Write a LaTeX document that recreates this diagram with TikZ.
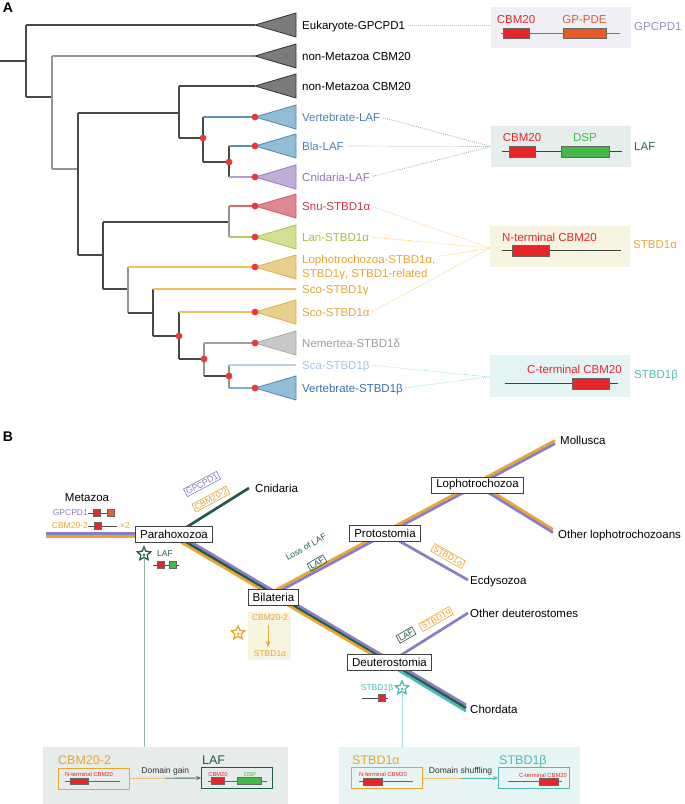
\documentclass[tikz,border=0pt]{standalone}
\usepackage{fontspec}
\setmainfont{Liberation Sans}
\usetikzlibrary{shapes.geometric,arrows.meta,calc}
\newcommand\fA{\fontsize{11.5}{13}\selectfont}
\newcommand\fS{\fontsize{8.5}{10}\selectfont}
\newcommand\fT{\fontsize{5.8}{7}\selectfont}
\newcommand\fL{\fontsize{12.5}{14}\selectfont}
\newcommand\fP{\fontsize{14}{16}\selectfont\bfseries}
\definecolor{dotred}{HTML}{E8393C}
\definecolor{dred}{HTML}{E8262A}
\definecolor{gpde}{HTML}{E95B25}
\definecolor{dsp}{HTML}{45B847}
\definecolor{pur}{HTML}{8B7CC6}
\definecolor{org}{HTML}{E8A532}
\definecolor{dgr}{HTML}{215A47}
\definecolor{tealc}{HTML}{4DB9B5}
\definecolor{blueF}{HTML}{93BDD6}\definecolor{blueE}{HTML}{4D87B9}
\definecolor{purF}{HTML}{C2ACD8}\definecolor{purE}{HTML}{9777C2}
\definecolor{redF}{HTML}{DC8A90}\definecolor{redE}{HTML}{D65560}
\definecolor{lanF}{HTML}{D6E094}\definecolor{lanE}{HTML}{A9C24E}
\definecolor{orgF}{HTML}{E9CF8E}\definecolor{orgE}{HTML}{E6AA40}
\definecolor{gryF}{HTML}{C9C9C9}\definecolor{gryE}{HTML}{A8A8A8}
\definecolor{dkF}{HTML}{7B7B7B}\definecolor{dkE}{HTML}{333333}
\definecolor{tblue}{HTML}{4A80B8}\definecolor{tpur}{HTML}{9370C0}
\definecolor{tred}{HTML}{D6323C}\definecolor{tlan}{HTML}{A3BD3F}
\definecolor{torg}{HTML}{E5A53A}\definecolor{tgry}{HTML}{9C9C9C}
\definecolor{tsca}{HTML}{A9C3E8}\definecolor{tvb}{HTML}{3A70AF}
\definecolor{lblue}{HTML}{5B8FC4}\definecolor{lpur}{HTML}{B59AD6}
\definecolor{lred}{HTML}{E06670}\definecolor{llan}{HTML}{B5CA5A}
\definecolor{lorg}{HTML}{F0C060}\definecolor{lgry}{HTML}{A0A0A0}
\definecolor{lsca}{HTML}{B8CFEE}\definecolor{lvb}{HTML}{7FAEDB}
\definecolor{gpbg}{HTML}{F0EFF5}\definecolor{lafbg}{HTML}{E5EEEC}
\definecolor{sabg}{HTML}{F8F4E2}\definecolor{sbbg}{HTML}{E4F4F4}
\definecolor{lbg}{HTML}{E5ECEA}\definecolor{rbg}{HTML}{E6F4F3}
\definecolor{dotgp}{HTML}{C3C3DD}\definecolor{dotlaf}{HTML}{86A99E}
\definecolor{dotsa}{HTML}{F2C97C}\definecolor{dotsb}{HTML}{8FD4D0}
\definecolor{tlaf}{HTML}{2E6050}\definecolor{tgp}{HTML}{9A8ACC}
\definecolor{tsb}{HTML}{55BDB8}\definecolor{sage}{HTML}{8FB3A8}
\definecolor{lteal}{HTML}{A8DEDC}
\colorlet{dk}{black!72}
\colorlet{lt}{black!42}
\newcommand\tri[3]{\draw[line width=0.8pt, draw=#2, fill=#3] (255,#1) -- (296,{#1-12}) -- (296,{#1+12}) -- cycle;}
\newcommand\rdot[2]{\fill[dotred] (#1,#2) circle (3.4pt);}
\begin{document}
\begin{tikzpicture}[x=1pt,y=-1pt,
  tr/.style={line width=1.3pt},
  lab/.style={font=\fA, anchor=base west, inner sep=0, yshift=-4.1pt},
  labS/.style={font=\fS, inner sep=0},
  dotline/.style={line width=0.7pt, dash pattern=on 0.8pt off 1.2pt, shorten <=3pt},
  clade/.style={draw=black!75, fill=white, font=\fA, line width=0.8pt, inner xsep=4.5pt, inner ysep=0pt, minimum height=16pt},
  lost/.style={font=\fS, inner sep=1.3pt, line width=0.6pt, draw},
  stripe/.style={line width=2.7pt},
  starn/.style={star, star points=5, star point ratio=2.1, line width=1.3pt, minimum size=14pt, inner sep=0},
  dom/.style={draw=black!60, line width=0.4pt},
  bx/.style={inner sep=0, minimum width=140pt, minimum height=41pt},
  obox/.style={draw, line width=0.8pt, minimum width=71pt, minimum height=21pt, inner sep=0}
]
\useasboundingbox (0,0) rectangle (685,804);
% ---------------- Panel A ----------------
\node[font=\fP, anchor=center] (pA) at (8,8) {A};
\draw[tr, dk] (0,61) -- (26,61);
\draw[tr, dk] (26,25) -- (26,97);
\draw[tr, dk] (26,25) -- (255,25);
\draw[tr, dk] (26,97) -- (52,97);
\draw[tr, lt] (52,56) -- (52,169);
\draw[tr, lt] (52,56) -- (255,56);
\draw[tr, lt] (52,169) -- (78,169);
\draw[tr, dk] (78,113) -- (78,255);
\draw[tr, dk] (78,113) -- (179,113);
\draw[tr, dk] (179,86) -- (179,138);
\draw[tr, dk] (179,86) -- (255,86);
\draw[tr, dk] (179,138) -- (203,138);
\draw[tr, dk] (203,117) -- (203,162);
\draw[tr, lblue] (203,117) -- (255,117);
\draw[tr, dk] (203,162) -- (229,162);
\draw[tr, dk] (229,146) -- (229,177);
\draw[tr, lblue] (229,146) -- (255,146);
\draw[tr, lpur] (229,177) -- (255,177);
\draw[tr, dk] (78,255) -- (103,255);
\draw[tr, dk] (103,222) -- (103,289);
\draw[tr, dk] (103,222) -- (229,222);
\draw[tr, lt] (229,206) -- (229,237);
\draw[tr, lred] (229,206) -- (255,206);
\draw[tr, llan] (229,237) -- (255,237);
\draw[tr, dk] (103,289) -- (128,289);
\draw[tr, lt] (128,267) -- (128,313);
\draw[tr, lorg] (128,267) -- (255,267);
\draw[tr, dk] (128,313) -- (153,313);
\draw[tr, dk] (153,289) -- (153,336);
\draw[tr, lorg] (153,289) -- (296,289);
\draw[tr, dk] (153,336) -- (179,336);
\draw[tr, dk] (179,312) -- (179,359);
\draw[tr, lorg] (179,312) -- (255,312);
\draw[tr, dk] (179,359) -- (204,359);
\draw[tr, lt] (204,343) -- (204,376);
\draw[tr, lgry] (204,343) -- (255,343);
\draw[tr, dk] (204,376) -- (229,376);
\draw[tr, lt] (229,365) -- (229,388);
\draw[tr, lsca] (229,365) -- (296,365);
\draw[tr, lvb] (229,388) -- (255,388);
% triangles
\tri{25}{dkE}{dkF}
\tri{56}{dkE}{dkF}
\tri{86}{dkE}{dkF}
\tri{117}{blueE}{blueF}
\tri{146}{blueE}{blueF}
\tri{177}{purE}{purF}
\tri{206}{redE}{redF}
\tri{237}{lanE}{lanF}
\tri{267}{orgE}{orgF}
\tri{312}{orgE}{orgF}
\tri{343}{gryE}{gryF}
\tri{388}{blueE}{blueF}
% dots
\rdot{255}{117}\rdot{255}{146}\rdot{255}{177}\rdot{255}{206}\rdot{255}{237}
\rdot{255}{267}\rdot{255}{312}\rdot{255}{343}\rdot{255}{388}
\rdot{203}{138}\rdot{229}{162}\rdot{179}{336}\rdot{204}{359}\rdot{229}{376}
% labels
\node[lab] (euk) at (302,25) {Eukaryote-GPCPD1};
\node[lab] (nm1) at (302,56) {non-Metazoa CBM20};
\node[lab] (nm2) at (302,86) {non-Metazoa CBM20};
\node[lab, text=tblue] (vlaf) at (302,117) {Vertebrate-LAF};
\node[lab, text=tblue] (blaf) at (302,146) {Bla-LAF};
\node[lab, text=tpur] (claf) at (302,177) {Cnidaria-LAF};
\node[lab, text=tred] (snu) at (302,206) {Snu-STBD1α};
\node[lab, text=tlan] (lan) at (302,237) {Lan-STBD1α};
\node[lab, text=torg] (lo1) at (302,259) {Lophotrochozoa-STBD1α,};
\node[lab, text=torg] (lo2) at (302,273) {STBD1γ, STBD1-related};
\node[lab, text=torg] (scog) at (302,289) {Sco-STBD1γ};
\node[lab, text=torg] (scoa) at (302,312) {Sco-STBD1α};
\node[lab, text=tgry] (nem) at (302,343) {Nemertea-STBD1δ};
\node[lab, text=tsca] (sca) at (302,365) {Sca-STBD1β};
\node[lab, text=tvb] (vsb) at (302,388) {Vertebrate-STBD1β};
% domain boxes
\node[bx, fill=gpbg] (gpbox) at (561,27.5) {};
\node[bx, fill=lafbg] (lafbox) at (561,146.5) {};
\node[bx, fill=sabg] (sabox) at (560,246) {};
\node[bx, fill=sbbg, minimum height=42pt] (sbbox) at (560,376) {};
% dotted connectors
\draw[dotline, dotgp] (euk.east |- 0,25) -- (gpbox.west |- 0,25);
\draw[dotline, dotlaf] (vlaf.east |- 0,117) -- (lafbox.west);
\draw[dotline, dotlaf] (blaf.east |- 0,146) -- (lafbox.west);
\draw[dotline, dotlaf] (claf.east |- 0,177) -- (lafbox.west);
\draw[dotline, dotsa] (snu.east |- 0,206) -- ($(sabox.west)+(0,2)$);
\draw[dotline, dotsa] (lan.east |- 0,237) -- ($(sabox.west)+(0,2)$);
\draw[dotline, dotsa] (lo1.east |- 0,257) -- ($(sabox.west)+(0,2)$);
\draw[dotline, dotsa] (scoa.east |- 0,313) -- ($(sabox.west)+(0,2)$);
\draw[dotline, dotsb] (sca.east |- 0,365) -- ($(sbbox.west)+(0,1)$);
\draw[dotline, dotsb] (vsb.east |- 0,388) -- ($(sbbox.west)+(0,1)$);
% GPCPD1 domains
\draw[black!55, line width=0.8pt] (501,33) -- (620,33);
\draw[dom, fill=dred] (503,28) rectangle (529,38);
\draw[dom, fill=gpde] (563,28) rectangle (606,38);
\node[labS, font=\fA, text=dred] (gpc) at (516,20) {CBM20};
\node[labS, font=\fA, text=gpde] (gpp) at (584.5,20) {GP-PDE};
\node[lab, text=tgp] (gpn) at (634,26) {GPCPD1};
% LAF domains
\draw[black!75, line width=0.8pt] (502,151) -- (622,151);
\draw[dom, fill=dred] (509,146) rectangle (535,157);
\draw[dom, fill=dsp] (561,146) rectangle (609,157);
\node[labS, font=\fA, text=dred] (lc) at (522,138) {CBM20};
\node[labS, font=\fA, text=dsp] (ld) at (585,138) {DSP};
\node[lab, text=tlaf] (lafn) at (634,146) {LAF};
% STBD1a domains
\draw[black!75, line width=0.8pt] (502,250) -- (621,250);
\draw[dom, fill=dred] (512,245) rectangle (549,256);
\node[lab, text=dred] (nt) at (502,237) {N-terminal CBM20};
\node[lab, text=torg] (san) at (633,244) {STBD1α};
% STBD1b domains
\draw[black!75, line width=0.8pt] (505,383) -- (618,383);
\draw[dom, fill=dred] (572,378) rectangle (609,389);
\node[lab, anchor=base east, text=dred] (ct) at (622,369) {C-terminal CBM20};
\node[lab, text=tsb] (sbn) at (634,374) {STBD1β};
% ---------------- Panel B ----------------
\node[font=\fP, anchor=center] (pB) at (8,437) {B};
\coordinate (P) at (174,535);
\coordinate (H0) at (46,535);
\coordinate (Cn) at (249,488);
\coordinate (Cc) at (466,708);
\coordinate (Bi) at (273,593);
\coordinate (Dd) at (390,662);
\coordinate (Mo) at (555,442);
\coordinate (Lo) at (477,484);
\coordinate (Pr) at (385,533);
\coordinate (OL) at (553,531);
\coordinate (Ec) at (468,580);
\coordinate (OD) at (468,613);
% thick lines
\draw[stripe, pur, transform canvas={yshift=1.35pt}] (H0) -- (P);
\draw[stripe, org, transform canvas={yshift=-1.35pt}] (H0) -- (P);
\draw[stripe, dgr] (P) -- (Cn);
\draw[stripe, org, transform canvas={yshift=1.55pt}] (Bi) -- (Mo);
\draw[stripe, pur, transform canvas={yshift=-1.55pt}] (Bi) -- (Mo);
\draw[stripe, org, transform canvas={yshift=1.6pt}] (Lo) -- (OL);
\draw[stripe, pur, transform canvas={yshift=-1.6pt}] (Lo) -- (OL);
\draw[stripe, pur] (Pr) -- (Ec);
\draw[stripe, pur] (Dd) -- (OD);
\draw[stripe, pur, transform canvas={yshift=3.1pt}] (P) -- (Cc);
\draw[stripe, dgr] (P) -- (Cc);
\draw[stripe, org, transform canvas={yshift=-3.1pt}] (P) -- (Dd);
\draw[stripe, tealc, transform canvas={yshift=-3.1pt}] (Dd) -- (Cc);
% clade boxes
\node[clade] (para) at (174,534) {Parahoxozoa};
\node[clade] (bila) at (273.5,597) {Bilateria};
\node[clade] (prot) at (385,533.5) {Protostomia};
\node[clade] (loph) at (477.5,485) {Lophotrochozoa};
\node[clade] (deut) at (389.5,662) {Deuterostomia};
% terminal labels
\node[lab] (tcn) at (255,488) {Cnidaria};
\node[lab] (tmo) at (560,440) {Mollusca};
\node[lab] (tol) at (558,534) {Other lophotrochozoans};
\node[lab] (tec) at (470,580) {Ecdysozoa};
\node[lab] (tod) at (470,613) {Other deuterostomes};
\node[lab] (tch) at (470,709) {Chordata};
\node[font=\fA, inner sep=0] (meta) at (87,498) {Metazoa};
% lost boxes
\node[lost, draw=pur, text=pur, rotate=28] (lg1) at (202,484) {GPCPD1};
\node[lost, draw=org, text=org, rotate=28] (lg2) at (211,499) {CBM20-2};
\node[labS, text=dgr, rotate=30] (loss) at (306,547) {Loss of LAF};
\node[lost, draw=dgr, text=dgr, rotate=30] (ll1) at (317,563) {LAF};
\node[lost, draw=org, text=org, rotate=-30] (ls1) at (448,556) {STBD1α};
\node[lost, draw=dgr, text=dgr, rotate=30] (ll2) at (406,635) {LAF};
\node[lost, draw=org, text=org, rotate=30] (ls2) at (436,619) {STBD1α};
% Metazoa minis
\node[labS, anchor=east, text=pur] (mg) at (88,513) {GPCPD1};
\draw[black!70, line width=0.6pt] (88,513) -- (115,513);
\draw[dom, fill=dred] (93,509.5) rectangle (100,516.5);
\draw[dom, fill=gpde] (107,509.5) rectangle (114,516.5);
\node[labS, anchor=east, text=org] (mc) at (88,526) {CBM20-2};
\draw[black!70, line width=0.6pt] (88,526) -- (117,526);
\draw[dom, fill=dred] (94,522.5) rectangle (101,529.5);
\node[labS, anchor=west, text=org] (x2) at (120,526) {×2};
% LAF mini and star
\node[starn, draw=dgr] (s1) at (144,554) {};
\fill[dgr] (144,555) circle (1.3pt);
\node[labS, anchor=west, text=dgr] (mlaf) at (157,554) {LAF};
\draw[black!70, line width=0.6pt] (153,565) -- (179,565);
\draw[dom, fill=dred] (157,561.5) rectangle (164,568.5);
\draw[dom, fill=dsp] (169,561.5) rectangle (176,568.5);
% Bilateria beige box
\node[fill=sabg, minimum width=43pt, minimum height=48pt, inner sep=0] (bbx) at (269.5,636) {};
\node[labS, text=org] (bc) at (270,618) {CBM20-2};
\node[labS, text=org] (bs) at (270,654) {STBD1α};
\draw[org, line width=0.8pt, -{Stealth[length=6pt,width=4.5pt]}] (268,625) -- (268,647);
\node[starn, draw=org] (s2) at (238,633) {};
\fill[org] (238,634) circle (1.3pt);
% Deuterostomia minis
\node[starn, draw=tealc] (s3) at (402,688) {};
\fill[tealc] (402,689) circle (1.3pt);
\node[labS, text=tealc] (msb) at (377,688) {STBD1β};
\draw[black!70, line width=0.6pt] (362,698) -- (388,698);
\draw[dom, fill=dred] (378,694.5) rectangle (385,701.5);
% bottom boxes
\node[fill=lbg, minimum width=245pt, minimum height=57pt, inner sep=0] (lbox) at (165.5,775.5) {};
\node[fill=rbg, minimum width=241pt, minimum height=57pt, inner sep=0] (rbox) at (459.5,775.5) {};
\draw[sage, line width=0.8pt] (s1.south) -- (s1.south |- lbox.north);
\draw[lteal, line width=1pt] (s3.south) -- (s3.south |- rbox.north);
% left bottom
\node[font=\fL, text=org, anchor=base west, inner sep=0, yshift=-4.4pt] (lc2) at (58,760) {CBM20-2};
\node[obox, draw=org] (ob1) at (93.5,778.5) {};
\node[font=\fT, text=dred, anchor=west, inner sep=0] at (65,774) {N-terminal CBM20};
\draw[black!60, line width=0.6pt] (65,781) -- (120,781);
\draw[dom, fill=dred] (70,778) rectangle (88,784);
\node[font=\fL, text=dgr, anchor=base west, inner sep=0, yshift=-4.4pt] (ll) at (202,760) {LAF};
\node[obox, draw=dgr] (gb1) at (237,778) {};
\node[font=\fT, text=dred, inner sep=0] at (218,774) {CBM20};
\node[font=\fT, text=dsp, inner sep=0] at (250,774) {DSP};
\draw[black!60, line width=0.6pt] (208,781) -- (267,781);
\draw[dom, fill=dred] (211,777.5) rectangle (224,784.5);
\draw[dom, fill=dsp] (237,777.5) rectangle (261,784.5);
\coordinate (am1) at ($(ob1.east)!0.5!(gb1.west)$);
\draw[org!70, line width=0.9pt] (ob1.east) -- (am1);
\draw[dgr!85, line width=0.9pt, -{Stealth[length=5pt,width=4pt]}] (am1) -- (gb1.west);
\node[font=\fS, text=black!80, anchor=south, inner sep=1pt] (dg) at ($(am1)+(0,-2)$) {Domain gain};
% right bottom
\node[font=\fL, text=org, anchor=base west, inner sep=0, yshift=-4.4pt] (rs1) at (352,760) {STBD1α};
\node[obox, draw=org] (ob2) at (387,778) {};
\node[font=\fT, text=dred, anchor=west, inner sep=0] at (359,774) {N-terminal CBM20};
\draw[black!60, line width=0.6pt] (359,781) -- (413,781);
\draw[dom, fill=dred] (363,778) rectangle (382,785);
\node[font=\fL, text=tealc, anchor=base west, inner sep=0, yshift=-4.4pt] (rs2) at (499,760) {STBD1β};
\node[obox, draw=tealc] (tb2) at (534,778) {};
\node[font=\fT, text=dred, anchor=east, inner sep=0] at (567,775) {C-terminal CBM20};
\draw[black!60, line width=0.6pt] (508,781) -- (562,781);
\draw[dom, fill=dred] (539,778) rectangle (558,785);
\coordinate (am2) at ($(ob2.east)!0.5!(tb2.west)$);
\draw[org!70, line width=0.9pt] (ob2.east) -- (am2);
\draw[tealc, line width=0.9pt, -{Stealth[length=5pt,width=4pt]}] (am2) -- (tb2.west);
\node[font=\fS, text=black!80, anchor=south, inner sep=1pt] (ds) at ($(am2)+(0,-2)$) {Domain shuffling};
\end{tikzpicture}
\end{document}
